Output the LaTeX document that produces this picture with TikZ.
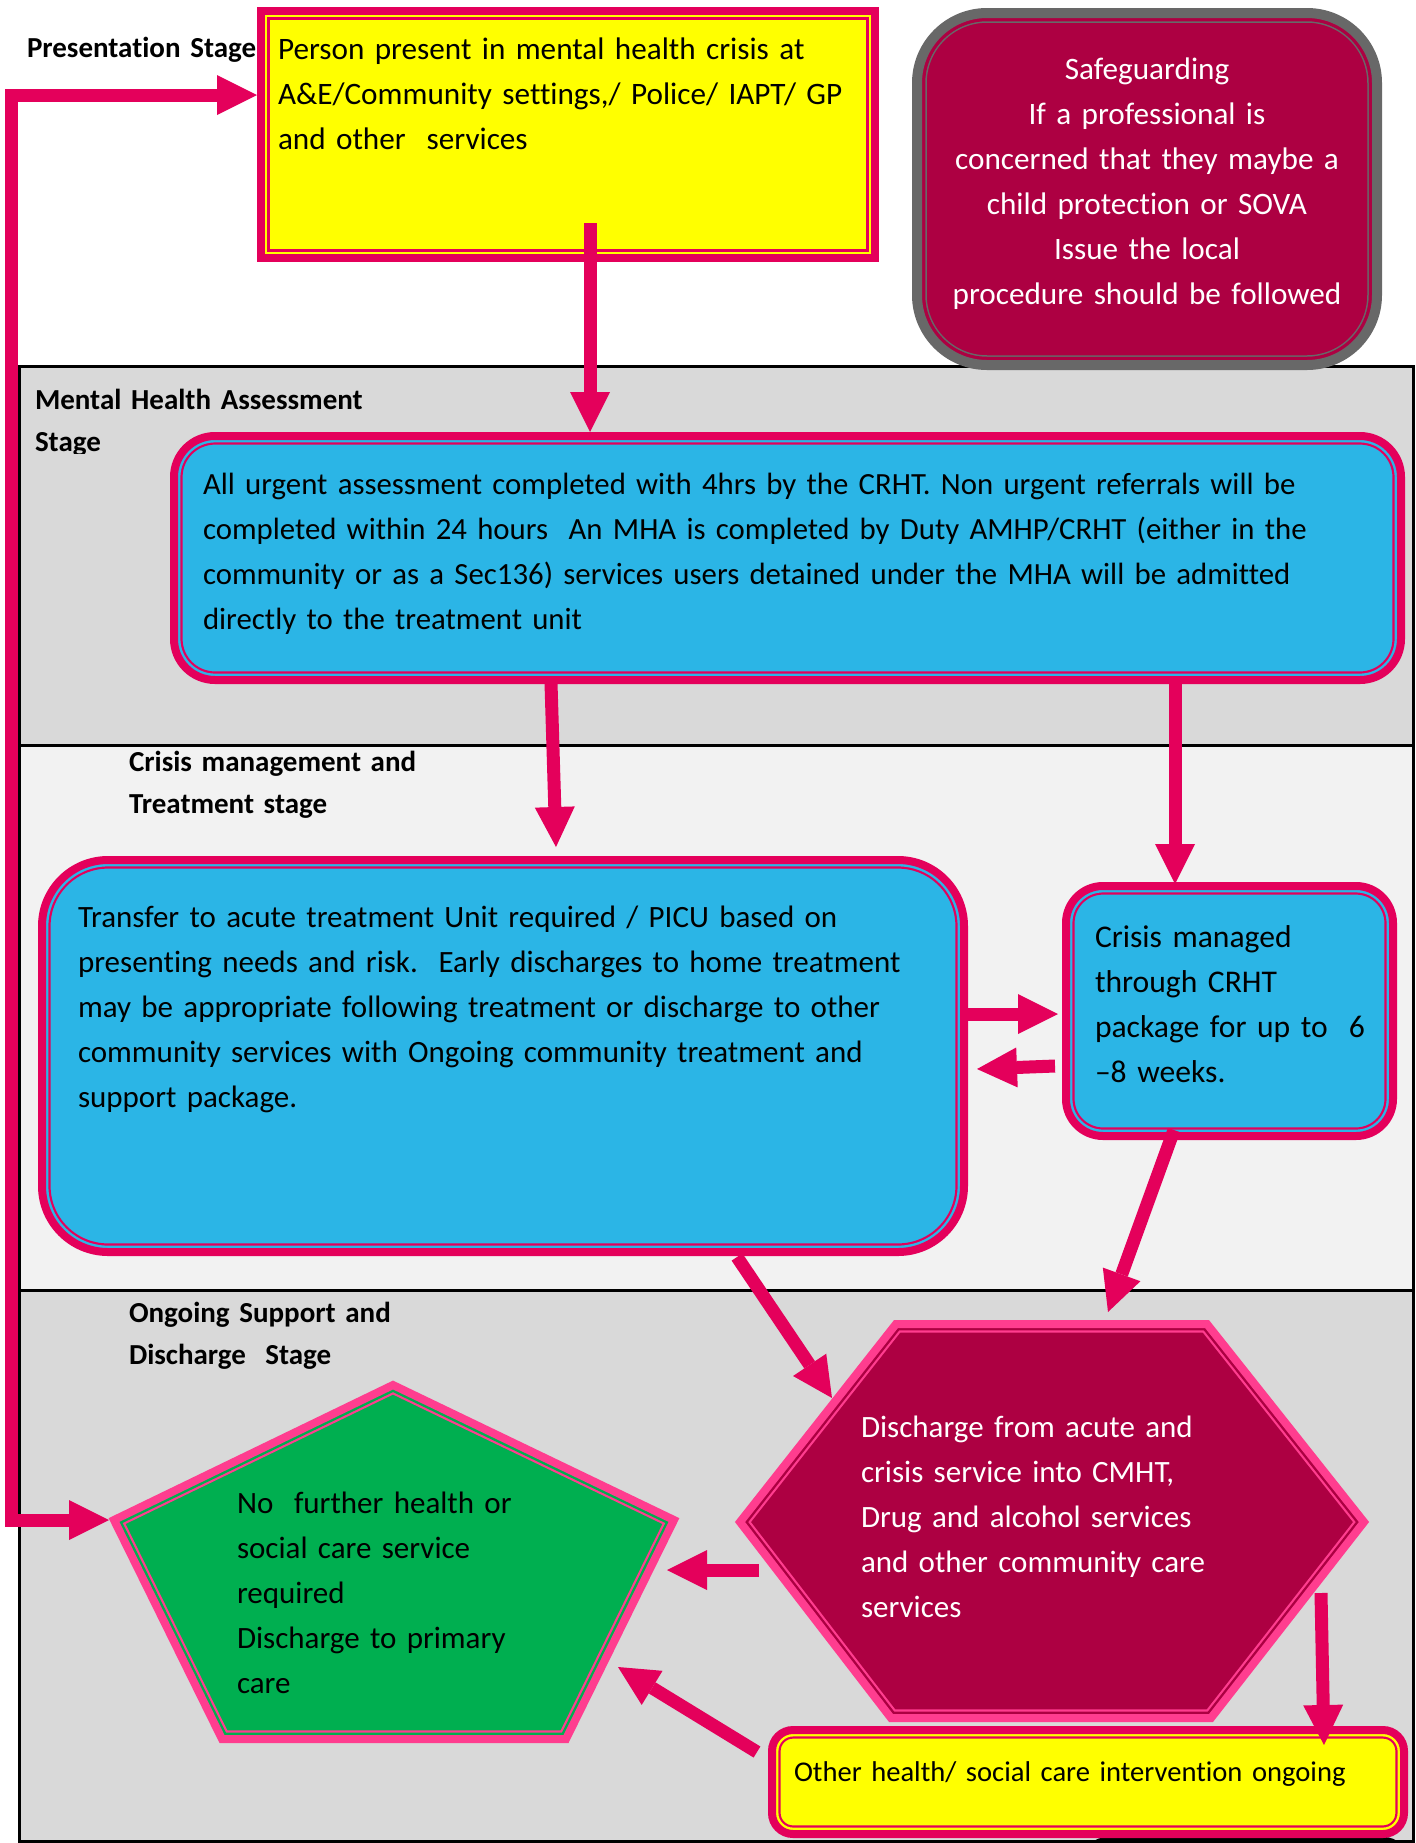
\documentclass[tikz,border=0pt]{standalone}
\usepackage{fontspec}
\setmainfont{Carlito}[Ligatures=NoCommon]
\usetikzlibrary{arrows.meta}
\definecolor{mag}{HTML}{E4005B}
\definecolor{hpink}{HTML}{FF3D8F}
\definecolor{cyanb}{HTML}{2BB5E6}
\definecolor{ylw}{HTML}{FFFF00}
\definecolor{grn}{HTML}{00AF50}
\definecolor{wine}{HTML}{AD0042}
\definecolor{sgrey}{HTML}{686868}
\definecolor{bandd}{HTML}{D9D9D9}
\definecolor{bandl}{HTML}{F2F2F2}
% #1 fill, #2 border, #3 outer line width, #4 inner-line outer width, #5 inner-line inner width, #6 path
\newcommand\fshape[6]{%
  \fill[#1] #6;
  \begin{scope}\clip #6; \draw[#2,line width=#4] #6; \draw[#1,line width=#5] #6; \end{scope}
  \draw[#2,line width=#3] #6;}
\tikzset{
  lab/.style={font=\bfseries\fontsize{14.5pt}{21pt}\selectfont, anchor=base west, inner sep=0pt, outer sep=0pt, align=left, text width=300pt},
  body/.style={font=\fontsize{15.6pt}{22.5pt}\selectfont\frenchspacing, anchor=base west, inner sep=0pt, outer sep=0pt, align=left, text width=620pt},
  bandbox/.style={draw=black, line width=1.5pt},
  tip/.tip={Triangle[length=20pt,width=20pt,line width=0pt]},
  arr/.style={draw=mag, line width=6.5pt, -tip},
}
\begin{document}
\begin{tikzpicture}[x=0.5pt,y=-0.5pt]
\useasboundingbox (0,0) rectangle (1415,1843);
\clip (0,0) rectangle (1415,1843);
\fill[white] (0,0) rectangle (1415,1843);

% stage bands
\path[bandbox, fill=bandd] (19,366) rectangle (1413,745);
\path[bandbox, fill=bandl] (19,745) rectangle (1413,1290);
\path[bandbox, fill=bandd] (19,1290) rectangle (1413,1841);
\fill[black, rounded corners=12pt] (1083,1837) rectangle (1408,1900);

% shapes
\fshape{ylw}{mag}{4pt}{8.6pt}{6.4pt}{(261,11) rectangle (875,258)}
\fshape{wine}{sgrey}{5pt}{9.75pt}{8.25pt}{[rounded corners=35pt] (917,13) rectangle (1377,365)}
\fshape{cyanb}{mag}{4pt}{8.6pt}{6.4pt}{[rounded corners=20.5pt] (174,436) rectangle (1401,680)}
\fshape{cyanb}{mag}{4pt}{8.6pt}{6.4pt}{[rounded corners=33pt] (42,860) rectangle (964,1252)}
\fshape{cyanb}{mag}{4pt}{8.6pt}{6.4pt}{[rounded corners=18.5pt] (1066,886) rectangle (1393,1136)}
\fshape{grn}{hpink}{4pt}{8.6pt}{6.4pt}{(393,1385) -- (674,1520) -- (566,1739) -- (222,1739) -- (114,1520) -- cycle}
\fshape{wine}{hpink}{4pt}{8.6pt}{6.4pt}{(896,1324) -- (1207,1324) -- (1364,1522) -- (1211,1718) -- (891,1718) -- (740,1522) -- cycle}
\fshape{ylw}{mag}{4pt}{8.6pt}{6.4pt}{[rounded corners=10.5pt] (772,1730) rectangle (1404,1834)}

% stage labels
\node[lab] (l-pres) at (27,57) {Presentation Stage};
\begin{scope}
\clip (20,370) rectangle (400,453);
\node[lab] (l-mha) at (35,409) {Mental Health Assessment\\Stage};
\end{scope}
\node[lab] (l-crisis) at (129,771) {Crisis management and\\Treatment stage};
\node[lab] (l-ongoing) at (129,1322) {Ongoing Support and\\Discharge\ \ Stage};

% texts
\node[body] (t-present) at (278,59) {Person present in mental health crisis at\\A\&E/Community settings,/ Police/ IAPT/ GP\\and other\ \ services};
\node[body, anchor=base, align=center, text width=235pt, text=white] (t-safe) at (1147,79)
  {Safeguarding\\If a professional is\\concerned that they maybe a\\child protection or SOVA\\Issue the local\\procedure should be followed};
\node[body, font=\fontsize{15.4pt}{22.5pt}\selectfont\frenchspacing] (t-mha) at (203,494) {All urgent assessment completed with 4hrs by the CRHT. Non urgent referrals will be\\completed within 24 hours\ \ An MHA is completed by Duty AMHP/CRHT (either in the\\community or as a Sec136) services users detained under the MHA will be admitted\\directly to the treatment unit};
\node[body, font=\fontsize{15.5pt}{22.5pt}\selectfont\frenchspacing] (t-transfer) at (78,927) {Transfer to acute treatment Unit required / PICU based on\\presenting needs and risk.\ \ Early discharges to home treatment\\may be appropriate following treatment or discharge to other\\community services with Ongoing community treatment and\\support package.};
\node[body, font=\fontsize{15.8pt}{22.5pt}\selectfont\frenchspacing] (t-crisis) at (1095,947) {Crisis managed\\through CRHT\\package for up to\ \ 6\\–8 weeks.};
\node[body, font=\fontsize{15.5pt}{22.5pt}\selectfont\frenchspacing] (t-none) at (237,1513) {No\ \ further health or\\social care service\\required\\Discharge to primary\\care};
\node[body, font=\fontsize{15.5pt}{22.5pt}\selectfont\frenchspacing, text=white] (t-disch) at (861,1437) {Discharge from acute and\\crisis service into CMHT,\\Drug and alcohol services\\and other community care\\services};
\node[body, font=\fontsize{14.3pt}{22.5pt}\selectfont\frenchspacing] (t-other) at (794,1781) {Other health/ social care intervention ongoing};

% connector end points
\coordinate (a1s) at (590,223);  \coordinate (a1e) at (590,432);
\coordinate (a2s) at (551,683);  \coordinate (a2e) at (556,847);
\coordinate (a3s) at (1175,682); \coordinate (a3e) at (1175,884);
\coordinate (a4s) at (968,1014); \coordinate (a4e) at (1058,1014);
\coordinate (a5s) at (1055,1066);\coordinate (a5e) at (977,1069);
\coordinate (a6s) at (1174,1130);\coordinate (a6e) at (1108,1312);
\coordinate (a7s) at (737,1257); \coordinate (a7e) at (832,1398);
\coordinate (a8s) at (759,1570); \coordinate (a8e) at (667,1570);
\coordinate (a9s) at (1321,1593);\coordinate (a9e) at (1324,1745);
\coordinate (a10s) at (757,1752);\coordinate (a10e) at (618,1667);
\coordinate (fbY) at (257,95);   \coordinate (fbA) at (11,95);
\coordinate (fbB) at (11,1520);  \coordinate (fbP) at (109,1520);

% connectors
\draw[arr] (a1s) -- (a1e);
\draw[arr] (a2s) -- (a2e);
\draw[arr] (a3s) -- (a3e);
\draw[arr] (a4s) -- (a4e);
\draw[arr] (a5s) -- (a5e);
\draw[arr] (a6s) -- (a6e);
\draw[arr] (a7s) -- (a7e);
\draw[arr] (a8s) -- (a8e);
\draw[arr] (a9s) -- (a9e);
\draw[arr] (a10s) -- (a10e);
\draw[arr, tip-tip] (fbY) -- (fbA) -- (fbB) -- (fbP);
\end{tikzpicture}
\end{document}
